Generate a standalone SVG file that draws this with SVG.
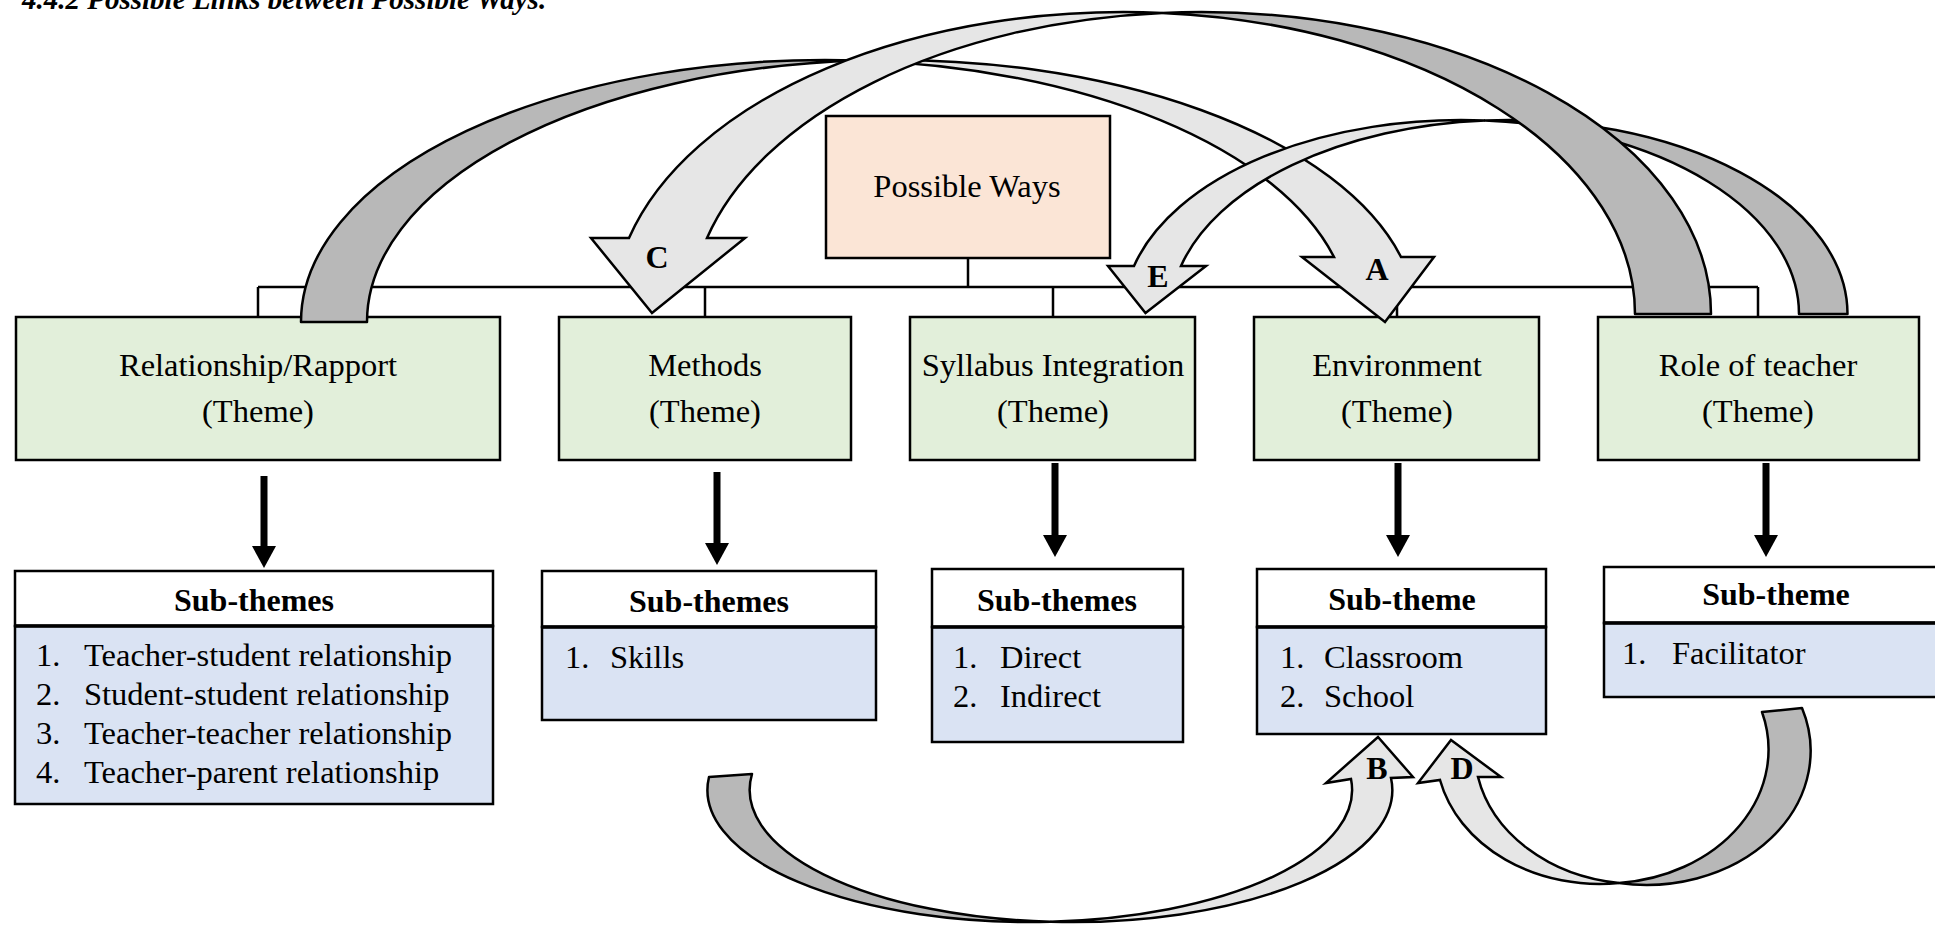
<svg xmlns="http://www.w3.org/2000/svg" width="1935" height="925" viewBox="0 0 1935 925">
  <style>
    .txt { font-family: "Liberation Serif", "Times New Roman", serif; font-size: 32.5px; fill: #000; }
    .bold { font-weight: bold; font-size: 32px; }
    .mid { text-anchor: middle; }
    .title { font-size: 29px; font-style: italic; }
    .box { stroke: #000; stroke-width: 2.5; }
    .root { fill: #fbe5d6; }
    .theme { fill: #e2efda; }
    .head { fill: #ffffff; }
    .list { fill: #dae3f3; }
    .sep { stroke: #000; stroke-width: 3.5; }
    .tree { fill: none; stroke: #000; stroke-width: 2.5; }
    .down { stroke: #000; stroke-width: 7; marker-end: url(#head); }
    .dark { fill: #b8b8b8; stroke: #000; stroke-width: 2.5; stroke-linejoin: round; }
    .light { fill: #e6e6e6; stroke: #000; stroke-width: 2.5; stroke-linejoin: miter; }
    .tag { font-size: 32px; }
  </style>
  <defs>
    <marker id="head" markerUnits="userSpaceOnUse" markerWidth="24" markerHeight="26" refX="0" refY="12" orient="auto" viewBox="0 0 24 26">
      <path d="M0,0 L22,12 L0,24 Z" fill="#000"/>
    </marker>
  </defs>

  <rect width="1935" height="925" fill="#ffffff"/>

  <text class="txt bold title" x="22" y="9">4.4.2 Possible Links between Possible Ways.</text>

  <!-- tree connectors from the root to each theme -->
  <g id="connectors">
    <path class="tree" d="M968,258 V287 M258,287 H1758 M258,287 V317 M705,287 V317 M1053,287 V317 M1397,287 V317 M1758,287 V317"/>
    <line class="down" x1="264" y1="476" x2="264" y2="546"/>
    <line class="down" x1="717" y1="472" x2="717" y2="543"/>
    <line class="down" x1="1055" y1="463" x2="1055" y2="535"/>
    <line class="down" x1="1398" y1="463" x2="1398" y2="535"/>
    <line class="down" x1="1766" y1="463" x2="1766" y2="535"/>
  </g>

  <g id="root">
    <rect class="box root" x="826" y="116" width="284" height="142"/>
    <text class="txt mid" x="967" y="197">Possible Ways</text>
  </g>

  <g id="theme-relationship">
    <rect class="box theme" x="16" y="317" width="484" height="143"/>
    <text class="txt mid" x="258" y="376">Relationship/Rapport</text>
    <text class="txt mid" x="258" y="422">(Theme)</text>
  </g>
  <g id="theme-methods">
    <rect class="box theme" x="559" y="317" width="292" height="143"/>
    <text class="txt mid" x="705" y="376">Methods</text>
    <text class="txt mid" x="705" y="422">(Theme)</text>
  </g>
  <g id="theme-syllabus">
    <rect class="box theme" x="910" y="317" width="285" height="143"/>
    <text class="txt mid" x="1053" y="376">Syllabus Integration</text>
    <text class="txt mid" x="1053" y="422">(Theme)</text>
  </g>
  <g id="theme-environment">
    <rect class="box theme" x="1254" y="317" width="285" height="143"/>
    <text class="txt mid" x="1397" y="376">Environment</text>
    <text class="txt mid" x="1397" y="422">(Theme)</text>
  </g>
  <g id="theme-role">
    <rect class="box theme" x="1598" y="317" width="321" height="143"/>
    <text class="txt mid" x="1758" y="376">Role of teacher</text>
    <text class="txt mid" x="1758" y="422">(Theme)</text>
  </g>

  <g id="sub-relationship">
    <rect class="box head" x="15" y="571" width="478" height="55"/>
    <rect class="box list" x="15" y="626" width="478" height="178"/>
    <line class="sep" x1="15" y1="626" x2="493" y2="626"/>
    <text class="txt bold mid" x="254" y="611">Sub-themes</text>
    <text class="txt" x="36" y="666">1.</text><text class="txt" x="84" y="666">Teacher-student relationship</text>
    <text class="txt" x="36" y="705">2.</text><text class="txt" x="84" y="705">Student-student relationship</text>
    <text class="txt" x="36" y="744">3.</text><text class="txt" x="84" y="744">Teacher-teacher relationship</text>
    <text class="txt" x="36" y="783">4.</text><text class="txt" x="84" y="783">Teacher-parent relationship</text>
  </g>
  <g id="sub-methods">
    <rect class="box head" x="542" y="571" width="334" height="56"/>
    <rect class="box list" x="542" y="627" width="334" height="93"/>
    <line class="sep" x1="542" y1="627" x2="876" y2="627"/>
    <text class="txt bold mid" x="709" y="612">Sub-themes</text>
    <text class="txt" x="565" y="668">1.</text><text class="txt" x="610" y="668">Skills</text>
  </g>
  <g id="sub-syllabus">
    <rect class="box head" x="932" y="569" width="251" height="58"/>
    <rect class="box list" x="932" y="627" width="251" height="115"/>
    <line class="sep" x1="932" y1="627" x2="1183" y2="627"/>
    <text class="txt bold mid" x="1057" y="611">Sub-themes</text>
    <text class="txt" x="953" y="668">1.</text><text class="txt" x="1000" y="668">Direct</text>
    <text class="txt" x="953" y="707">2.</text><text class="txt" x="1000" y="707">Indirect</text>
  </g>
  <g id="sub-environment">
    <rect class="box head" x="1257" y="569" width="289" height="58"/>
    <rect class="box list" x="1257" y="627" width="289" height="107"/>
    <line class="sep" x1="1257" y1="627" x2="1546" y2="627"/>
    <text class="txt bold mid" x="1402" y="610">Sub-theme</text>
    <text class="txt" x="1280" y="668">1.</text><text class="txt" x="1324" y="668">Classroom</text>
    <text class="txt" x="1280" y="707">2.</text><text class="txt" x="1324" y="707">School</text>
  </g>
  <g id="sub-role">
    <rect class="box head" x="1604" y="567" width="340" height="56"/>
    <rect class="box list" x="1604" y="623" width="340" height="74"/>
    <line class="sep" x1="1604" y1="623" x2="1944" y2="623"/>
    <text class="txt bold mid" x="1776" y="605">Sub-theme</text>
    <text class="txt" x="1622" y="664">1.</text><text class="txt" x="1672" y="664">Facilitator</text>
  </g>

  <!-- curved link arrows between themes -->
  <g id="links">
    <g id="link-a">
      <path class="dark" d="M301,322 A524.7,262 0 0 1 859,60.5 A525.2,262 0 0 0 367,322 Z"/>
      <path class="light" d="M859,60.5 A525.2,262 0 0 1 1401,257 L1434,257 L1385,322 L1302,257 L1334,257 A524.7,262 0 0 0 859,60.5 Z"/>
      <text class="txt bold mid tag" x="1377" y="280">A</text>
    </g>
    <g id="link-e">
      <path class="dark" d="M1847.5,314 A338.5,194 0 0 0 1485,120.5 A337.8,194 0 0 1 1799,314 Z"/>
      <path class="light" d="M1485,120.5 A337.8,194 0 0 0 1134,266 L1108,266 L1145.5,313 L1206,266 L1181,266 A338.5,194 0 0 1 1485,120.5 Z"/>
      <text class="txt bold mid tag" x="1158" y="287">E</text>
    </g>
    <g id="link-c">
      <path class="dark" d="M1711,314 A510.2,302 0 0 0 1162.3,12.9 A511.2,302 0 0 1 1635,314 Z"/>
      <path class="light" d="M1162.3,12.9 A511.2,302 0 0 0 629,238 L591,238 L652,313 L745,238 L707,238 A510.2,302 0 0 1 1162.3,12.9 Z"/>
      <text class="txt bold mid tag" x="657" y="268">C</text>
    </g>
    <g id="link-b">
      <path class="dark" d="M709,777 A321,132 0 0 0 1050.5,921.7 A319.5,132 0 0 1 752,774 Z"/>
      <path class="light" d="M1050.5,921.7 A319.5,132 0 0 0 1391,778 L1413,777 L1378,737 L1326,783 L1351,779 A321,132 0 0 1 1050.5,921.7 Z"/>
      <text class="txt bold mid tag" x="1377" y="779">B</text>
    </g>
    <g id="link-d">
      <path class="dark" d="M1802,708 A164.2,134 0 0 1 1619,883 A163.6,134 0 0 0 1762,712 Z"/>
      <path class="light" d="M1619,883 A163.6,134 0 0 1 1440,780 L1418,783 L1451,740 L1501,777 L1478,777 A164.2,134 0 0 0 1619,883 Z"/>
      <text class="txt bold mid tag" x="1462" y="779">D</text>
    </g>
  </g>
</svg>
